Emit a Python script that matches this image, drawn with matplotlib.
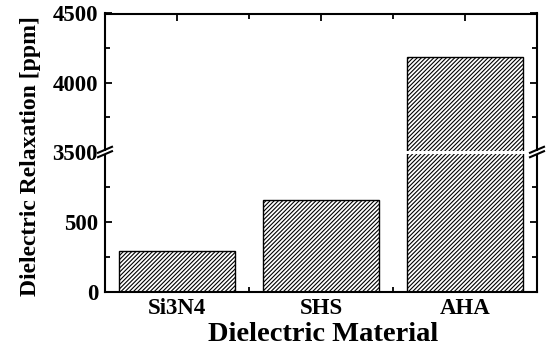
import matplotlib
matplotlib.use("Agg")
import matplotlib.pyplot as plt

#######################################################################
# Data
#######################################################################

materials = ["Si3N4", "SHS", "AHA"]
relaxation = [290, 660, 4185]

low_ylim = (0, 1000)
high_ylim = (3500, 4500)
low_ticks = [0, 500]
low_minor = [250, 750]
high_ticks = [3500, 4000, 4500]
high_minor = [3750, 4250]

#######################################################################
# Figure setup
#######################################################################

plt.rcParams["font.family"] = ["Liberation Serif", "DejaVu Serif"]
plt.rcParams["font.weight"] = "bold"
plt.rcParams["hatch.linewidth"] = 0.8

W, H = 546, 351
fig = plt.figure(figsize=(W / 100, H / 100), dpi=100)

left, right = 105 / W, 537 / W
bottom = (H - 292) / H
brk = (H - 152) / H
top = (H - 13.5) / H

ax_low = fig.add_axes([left, bottom, right - left, brk - bottom])
ax_high = fig.add_axes([left, brk, right - left, top - brk])

x = list(range(1, len(materials) + 1))

for ax in (ax_low, ax_high):
    ax.bar(x, relaxation, width=0.8, color="white", edgecolor="black",
           linewidth=1.0, hatch="////////", zorder=2)
    ax.set_xlim(0.5, len(materials) + 0.5)
    for s in ax.spines.values():
        s.set_linewidth(1.5)
    ax.tick_params(which="both", direction="in", width=1.3,
                   left=True, right=True, top=True, bottom=True,
                   labelsize=16.5)
    ax.tick_params(which="major", length=5)
    ax.tick_params(which="minor", length=3.5)
    ax.set_xticks(x)
    ax.set_xticks([1.5, 2.5], minor=True)

ax_low.set_ylim(*low_ylim)
ax_low.set_yticks(low_ticks)
ax_low.set_yticks(low_minor, minor=True)
ax_low.spines["top"].set_visible(False)
ax_low.tick_params(which="both", top=False)
ax_low.set_xticklabels(materials, fontsize=16.5, fontweight="bold")
ax_low.tick_params(axis="x", pad=4)
ax_low.tick_params(axis="y", pad=5)

ax_high.set_ylim(*high_ylim)
ax_high.set_yticks(high_ticks)
ax_high.set_yticks(high_minor, minor=True)
ax_high.spines["bottom"].set_visible(False)
ax_high.tick_params(which="both", bottom=False, labelbottom=False)
ax_high.tick_params(axis="y", pad=5)

for ax in (ax_low, ax_high):
    for lab in ax.get_yticklabels():
        lab.set_fontweight("bold")

#######################################################################
# Axis break
#######################################################################

fig.add_artist(plt.Line2D([left - 0.01, right + 0.01], [brk, brk],
                          transform=fig.transFigure, color="white",
                          lw=2.2, zorder=10))
for xp in (105, 537):
    for dy in (-2.2, 2.2):
        x0, x1 = (xp - 7) / W, (xp + 7) / W
        y0, y1 = (H - (152 + dy + 3)) / H, (H - (152 + dy - 3)) / H
        fig.add_artist(plt.Line2D([x0, x1], [y0, y1],
                                  transform=fig.transFigure,
                                  color="black", lw=1.5, zorder=11))

#######################################################################
# Labels
#######################################################################

fig.text(0.055, (H - 156) / H, "Dielectric Relaxation [ppm]", rotation=90,
         ha="center", va="center", fontsize=17, fontweight="bold")
fig.text(323 / W, 0.046, "Dielectric Material", ha="center", va="center",
         fontsize=20.5, fontweight="bold")

fig.savefig("out.png", dpi=100)
